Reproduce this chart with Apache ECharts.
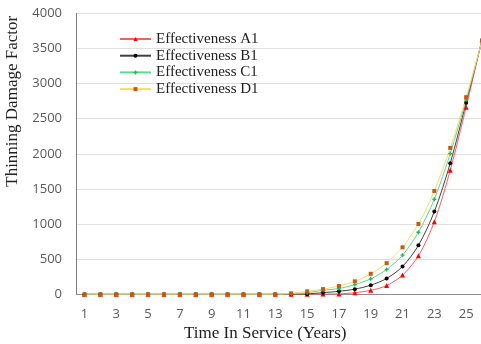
<!DOCTYPE html>
<html>
<head>
<meta charset="utf-8">
<script src="https://cdn.jsdelivr.net/npm/echarts@6/dist/echarts.min.js"></script>
<style>
  html, body { margin: 0; padding: 0; background: #fff; }
  #chart-container { width: 481px; height: 344px; }
</style>
</head>
<body>
<div id="chart-container"></div>
<script>
// years in service
var years = ['1', '2', '3', '4', '5', '6', '7', '8', '9', '10', '11', '12', '13',
    '14', '15', '16', '17', '18', '19', '20', '21', '22', '23', '24', '25', '26'];

// thinning damage factor per effectiveness level
var effA1 = [0, 0, 0, 0, 0, 0, 0, 0, 0, 0, 0, 0, 0,
    0, 1, 3, 6, 23, 56, 125, 273, 548, 1032, 1766, 2664, 3630];
var effB1 = [0, 0, 0, 0, 0, 0, 0, 0, 0, 0, 0, 0, 0,
    2, 6, 23, 43, 73, 130, 225, 396, 697, 1177, 1866, 2728, 3620];
var effC1 = [0, 0, 0, 0, 0, 0, 0, 0, 0, 0, 0, 0, 0,
    6, 23, 57, 82, 138, 220, 353, 557, 883, 1353, 2003, 2768, 3615];
var effD1 = [0, 0, 0, 0, 0, 0, 0, 0, 0, 0, 0, 0, 0,
    14, 42, 74, 118, 185, 292, 443, 669, 1001, 1471, 2084, 2806, 3610];

var serif = '"Liberation Serif", "DejaVu Serif", serif';
var sans = '"Open Sans", "Liberation Sans", sans-serif';

var plusPath = 'path://M2,0H4V2H6V4H4V6H2V4H0V2H2Z';

function makeSeries(name, data, lineColor, markColor, symbol, size) {
    return {
        name: name,
        type: 'line',
        data: data,
        smooth: 0.3,
        symbol: symbol,
        symbolSize: size,
        lineStyle: { color: lineColor, width: 1 },
        itemStyle: { color: markColor, borderWidth: 0 },
        emphasis: { disabled: true }
    };
}

var myChart = echarts.init(document.getElementById('chart-container'));

var option = {
    animation: false,
    backgroundColor: '#fff',
    grid: {
        left: 76.5, right: -9, top: 13.3, bottom: 49.7,
        containLabel: false, outerBoundsMode: 'none'
    },
    legend: {
        orient: 'vertical',
        left: 114,
        top: 26.5,
        itemWidth: 31,
        itemHeight: 5,
        itemGap: 1.7,
        textStyle: { fontFamily: serif, fontSize: 15, color: '#222', lineHeight: 15 },
        data: ['Effectiveness A1', 'Effectiveness B1', 'Effectiveness C1', 'Effectiveness D1']
    },
    xAxis: {
        type: 'category',
        data: years,
        boundaryGap: true,
        name: 'Time In Service (Years)',
        nameLocation: 'middle',
        nameGap: 31,
        nameTextStyle: { fontFamily: serif, fontSize: 17, color: '#222', padding: [0, 36, 0, 0] },
        axisLine: { lineStyle: { color: '#8c8c8c', width: 1 } },
        axisTick: { show: false },
        axisLabel: { interval: 1, margin: 13, fontFamily: sans, fontSize: 13, color: '#595959' },
        splitLine: { show: false }
    },
    yAxis: {
        type: 'value',
        min: 0,
        max: 4000,
        interval: 500,
        name: 'Thinning Damage Factor',
        nameLocation: 'middle',
        nameGap: 46,
        nameTextStyle: { fontFamily: serif, fontSize: 17, color: '#222', padding: [0, 0, 0, 105] },
        axisLine: { show: true, lineStyle: { color: '#7f7f7f', width: 1 } },
        axisTick: { show: false },
        axisLabel: {
            margin: 14.5, fontFamily: sans, fontSize: 13, color: '#595959',
            formatter: function (v) { return String(v); }
        },
        splitLine: { lineStyle: { color: '#e0e0e0', width: 1 } }
    },
    series: [
        makeSeries('Effectiveness A1', effA1, '#ff5b5b', '#ff0000', 'triangle', 5),
        makeSeries('Effectiveness B1', effB1, '#404040', '#000000', 'circle', 4),
        makeSeries('Effectiveness C1', effC1, '#5fd88f', '#1fb85a', plusPath, 4),
        makeSeries('Effectiveness D1', effD1, '#ffd966', '#c55a11', 'rect', 4)
    ]
};
myChart.setOption(option);
</script>
</body>
</html>
